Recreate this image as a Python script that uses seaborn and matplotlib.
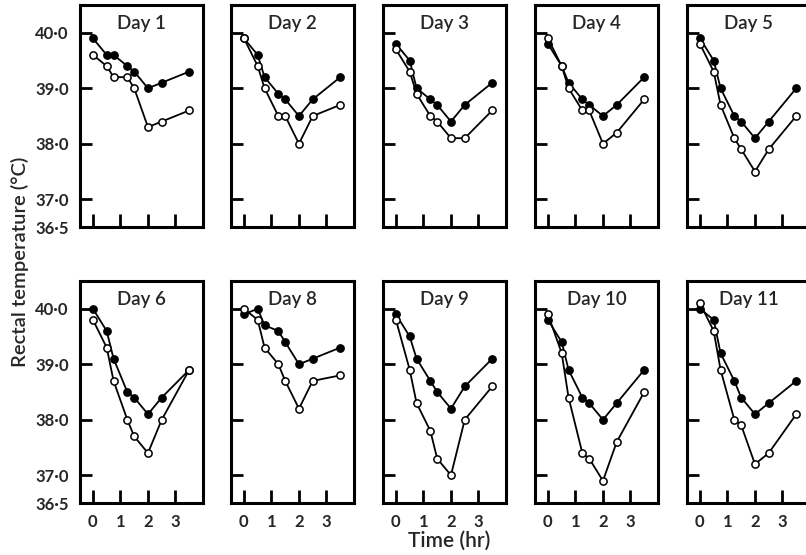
import numpy as np
import pandas as pd
import matplotlib.pyplot as plt
import seaborn as sns

# sampling times (hr) - same for every day
times = [0, 0.5, 0.75, 1.25, 1.5, 2, 2.5, 3.5]
days = [1, 2, 3, 4, 5, 6, 8, 9, 10, 11]

# rectal temperature (C), filled circles vs open circles
day1_filled = [39.9, 39.6, 39.6, 39.4, 39.3, 39.0, 39.1, 39.3]
day1_open = [39.6, 39.4, 39.2, 39.2, 39.0, 38.3, 38.4, 38.6]
day2_filled = [39.9, 39.6, 39.2, 38.9, 38.8, 38.5, 38.8, 39.2]
day2_open = [39.9, 39.4, 39.0, 38.5, 38.5, 38.0, 38.5, 38.7]
day3_filled = [39.8, 39.5, 39.0, 38.8, 38.7, 38.4, 38.7, 39.1]
day3_open = [39.7, 39.3, 38.9, 38.5, 38.4, 38.1, 38.1, 38.6]
day4_filled = [39.8, 39.4, 39.1, 38.8, 38.7, 38.5, 38.7, 39.2]
day4_open = [39.9, 39.4, 39.0, 38.6, 38.6, 38.0, 38.2, 38.8]
day5_filled = [39.9, 39.5, 39.0, 38.5, 38.4, 38.1, 38.4, 39.0]
day5_open = [39.8, 39.3, 38.7, 38.1, 37.9, 37.5, 37.9, 38.5]
day6_filled = [40.0, 39.6, 39.1, 38.5, 38.4, 38.1, 38.4, 38.9]
day6_open = [39.8, 39.3, 38.7, 38.0, 37.7, 37.4, 38.0, 38.9]
day8_filled = [39.9, 40.0, 39.7, 39.6, 39.4, 39.0, 39.1, 39.3]
day8_open = [40.0, 39.8, 39.3, 39.0, 38.7, 38.2, 38.7, 38.8]
day9_filled = [39.9, 39.5, 39.1, 38.7, 38.5, 38.2, 38.6, 39.1]
day9_open = [39.8, 38.9, 38.3, 37.8, 37.3, 37.0, 38.0, 38.6]
day10_filled = [39.8, 39.4, 38.9, 38.4, 38.3, 38.0, 38.3, 38.9]
day10_open = [39.9, 39.2, 38.4, 37.4, 37.3, 36.9, 37.6, 38.5]
day11_filled = [40.0, 39.8, 39.2, 38.7, 38.4, 38.1, 38.3, 38.7]
day11_open = [40.1, 39.6, 38.9, 38.0, 37.9, 37.2, 37.4, 38.1]

filled_all = [day1_filled, day2_filled, day3_filled, day4_filled, day5_filled,
              day6_filled, day8_filled, day9_filled, day10_filled, day11_filled]
open_all = [day1_open, day2_open, day3_open, day4_open, day5_open,
            day6_open, day8_open, day9_open, day10_open, day11_open]

ytick_vals = [36.5, 37.0, 38.0, 39.0, 40.0]
ytick_labels = ["36·5", "37·0", "38·0", "39·0", "40·0"]
xtick_vals = [0, 1, 2, 3]

# long table for seaborn
rows = []
for day, f, o in zip(days, filled_all, open_all):
    for t, a, b in zip(times, f, o):
        rows.append((day, t, a, "filled"))
        rows.append((day, t, b, "open"))
df = pd.DataFrame(rows, columns=["day", "time", "temp", "kind"])

sns.set_style("white")
plt.rcParams['font.family'] = ['Lato', 'DejaVu Sans']

W, H = 806, 555
fig = plt.figure(figsize=(W / 100, H / 100), dpi=100)

col_left = [80, 231, 383, 535, 687]
row_top = [5, 281]
ax_w, ax_h = 123, 222

for i, day in enumerate(days):
    r, c = divmod(i, 5)
    ax = fig.add_axes([col_left[c] / W, 1 - (row_top[r] + ax_h) / H, ax_w / W, ax_h / H])
    d = df[df.day == day]
    sns.lineplot(data=d[d.kind == "filled"], x="time", y="temp", ax=ax,
                 color="black", lw=1.3, marker="o", markersize=5.2,
                 markerfacecolor="black", markeredgecolor="black", markeredgewidth=1.1)
    sns.lineplot(data=d[d.kind == "open"], x="time", y="temp", ax=ax,
                 color="black", lw=1.3, marker="o", markersize=5.2,
                 markerfacecolor="white", markeredgecolor="black", markeredgewidth=1.1)
    ax.set_xlim(-0.47, 4.0)
    ax.set_ylim(36.5, 40.5)
    ax.set_xlabel("")
    ax.set_ylabel("")
    ax.set_xticks(xtick_vals)
    ax.set_yticks(ytick_vals)
    for s in ax.spines.values():
        s.set_linewidth(2.2)
        s.set_color("black")
    ax.tick_params(axis="x", bottom=True, direction="in", length=9.5, width=2,
                   color="black", pad=8, labelsize=12)
    ax.tick_params(axis="y", left=True, direction="in", length=8.5, width=2,
                   color="black", pad=8, labelsize=12)
    if c == 0:
        ax.set_yticklabels(ytick_labels, fontweight="bold")
    else:
        ax.set_yticklabels([])
    if r == 1:
        ax.set_xticklabels([str(v) for v in xtick_vals], fontweight="bold")
    else:
        ax.set_xticklabels([])
    ax.text(0.5, 0.955, f"Day {day}", transform=ax.transAxes, ha="center", va="top",
            fontsize=13.5, fontweight="semibold")

fig.text(20 / W, 1 - 262 / H, "Rectal temperature (°C)", rotation=90,
         ha="center", va="center", fontsize=14.5, fontweight="semibold")
fig.text(449 / W, 1 - 541 / H, "Time (hr)", ha="center", va="center",
         fontsize=15, fontweight="semibold")

fig.savefig("out.png", dpi=100, facecolor="white")
